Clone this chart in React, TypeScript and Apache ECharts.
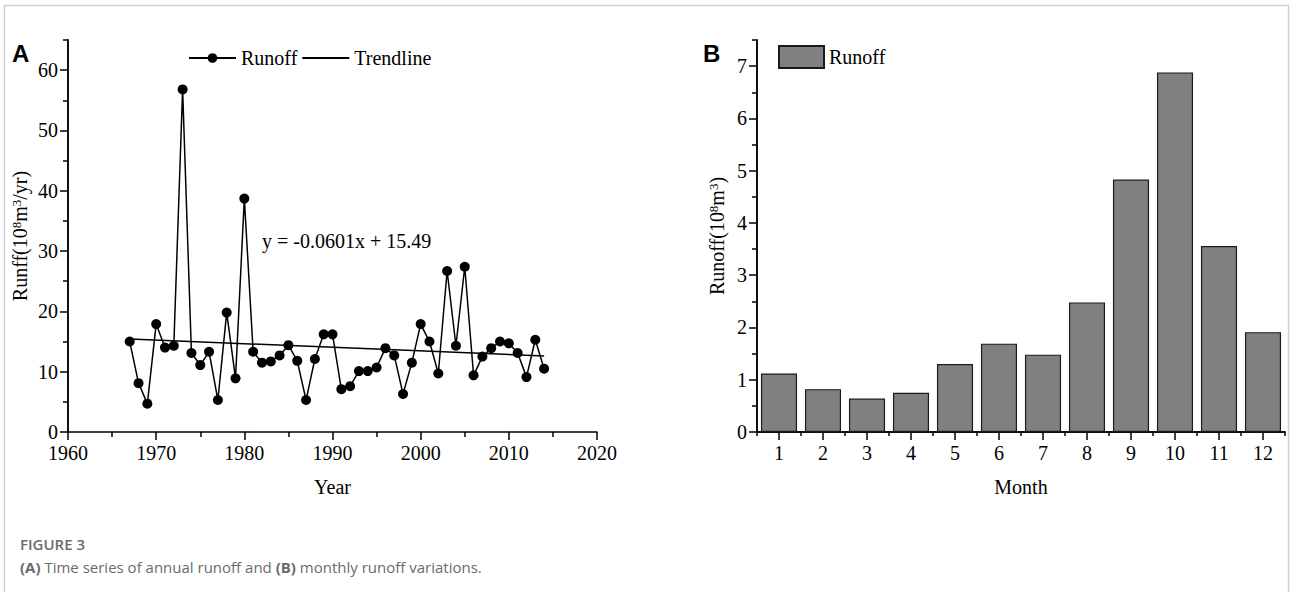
import React, { useEffect, useRef } from "react";
import * as echarts from "echarts";

const years = [
  1967, 1968, 1969, 1970, 1971, 1972, 1973, 1974, 1975, 1976, 1977, 1978,
  1979, 1980, 1981, 1982, 1983, 1984, 1985, 1986, 1987, 1988, 1989, 1990,
  1991, 1992, 1993, 1994, 1995, 1996, 1997, 1998, 1999, 2000, 2001, 2002,
  2003, 2004, 2005, 2006, 2007, 2008, 2009, 2010, 2011, 2012, 2013, 2014,
];
const annualRunoff = [
  15.0, 8.1, 4.7, 17.9, 14.0, 14.3, 56.8, 13.1, 11.1, 13.3, 5.3, 19.8,
  8.9, 38.7, 13.3, 11.5, 11.7, 12.7, 14.4, 11.8, 5.3, 12.1, 16.2, 16.2,
  7.1, 7.6, 10.1, 10.1, 10.7, 13.9, 12.7, 6.3, 11.5, 17.9, 15.0, 9.7,
  26.7, 14.3, 27.4, 9.4, 12.5, 13.9, 15.0, 14.7, 13.1, 9.1, 15.3, 10.5,
];
const trendYears = [1967, 2014];
const trendValues = [15.43, 12.61];
const equationText = "y = -0.0601x + 15.49";

const months = ["1", "2", "3", "4", "5", "6", "7", "8", "9", "10", "11", "12"];
const monthlyRunoff = [1.12, 0.82, 0.64, 0.75, 1.3, 1.69, 1.48, 2.48, 4.83, 6.88, 3.56, 1.91];

const annualMajorTicks = [0, 10, 20, 30, 40, 50, 60];
const annualMinorTicks = [5, 15, 25, 35, 45, 55, 65];
const monthlyMajorTicks = [0, 1, 2, 3, 4, 5, 6, 7];
const monthlyMinorTicks = [0.5, 1.5, 2.5, 3.5, 4.5, 5.5, 6.5, 7.5];

const SERIF = "'Liberation Serif', 'Times New Roman', serif";
const SANS = "'Open Sans', 'Noto Sans', sans-serif";

const axisLine = { show: true, lineStyle: { color: "#000", width: 1.5 } };
const tickLine = { color: "#000", width: 1.5 };
const labelStyle = { fontFamily: SERIF, fontSize: 20, color: "#000" };
const titleRich = {
  n: { fontFamily: SERIF, fontSize: 20, color: "#000" },
  s: { fontFamily: SERIF, fontSize: 13, color: "#000", verticalAlign: "top" },
};

export default function App() {
  const ref = useRef<HTMLDivElement>(null);
  useEffect(() => {
    if (!ref.current) return;
    const chart = echarts.init(ref.current, null, { renderer: "svg" });
    const option: any = {
      animation: false,
      backgroundColor: "#fff",
      grid: [
        { left: 68, top: 40, width: 529, height: 392 },
        { left: 757, top: 40, width: 528, height: 392 },
      ],
      legend: [
        {
          data: ["Runoff", { name: "Trendline", itemStyle: { opacity: 0 } }],
          left: 188,
          top: 48,
          padding: 0,
          itemWidth: 47,
          itemHeight: 12,
          itemGap: 4,
          textStyle: { fontFamily: SERIF, fontSize: 20, color: "#000" },
        },
        {
          data: [{ name: "Monthly runoff", icon: "rect" }],
          formatter: () => "Runoff",
          left: 778,
          top: 45,
          padding: 0,
          itemWidth: 45,
          itemHeight: 22,
          itemGap: 5,
          textStyle: { fontFamily: SERIF, fontSize: 20, color: "#000" },
        },
      ],
      xAxis: [
        {
          type: "value",
          gridIndex: 0,
          min: 1960,
          max: 2020,
          interval: 10,
          axisLine,
          axisTick: { show: true, inside: false, length: 8, lineStyle: tickLine },
          minorTick: { show: true, splitNumber: 2, length: 5, lineStyle: tickLine },
          axisLabel: { ...labelStyle, margin: 11, formatter: (v: number) => String(v) },
          splitLine: { show: false },
          minorSplitLine: { show: false },
          name: "Year",
          nameLocation: "middle",
          nameGap: 45,
          nameTextStyle: { fontFamily: SERIF, fontSize: 20, color: "#000" },
        },
        {
          type: "category",
          gridIndex: 1,
          data: months,
          axisLine,
          axisTick: { show: true, alignWithLabel: true, length: 8, lineStyle: tickLine },
          axisLabel: { ...labelStyle, margin: 11 },
          splitLine: { show: false },
          name: "Month",
          nameLocation: "middle",
          nameGap: 45,
          nameTextStyle: { fontFamily: SERIF, fontSize: 20, color: "#000" },
        },
        {
          type: "category",
          gridIndex: 1,
          position: "bottom",
          data: months,
          axisLine,
          axisTick: { show: true, alignWithLabel: false, length: 4, lineStyle: tickLine },
          axisLabel: { show: false },
          splitLine: { show: false },
        },
      ],
      yAxis: [
        {
          type: "value",
          gridIndex: 0,
          position: "left",
          min: 0,
          max: 65,
          axisLine,
          axisTick: { show: true, length: 8, customValues: annualMajorTicks, lineStyle: tickLine },
          axisLabel: { ...labelStyle, margin: 10, customValues: annualMajorTicks },
          splitLine: { show: false },
          name: "{n|Runff(10}{s|8}{n|m}{s|3}{n|/yr)}",
          nameLocation: "middle",
          nameGap: 38,
          nameRotate: 90,
          nameTextStyle: { rich: titleRich },
        },
        {
          type: "value",
          gridIndex: 0,
          position: "left",
          min: 0,
          max: 65,
          axisLine,
          axisTick: { show: true, length: 5, customValues: annualMinorTicks, lineStyle: tickLine },
          axisLabel: { show: false },
          splitLine: { show: false },
        },
        {
          type: "value",
          gridIndex: 1,
          position: "left",
          min: 0,
          max: 7.5,
          axisLine,
          axisTick: { show: true, length: 8, customValues: monthlyMajorTicks, lineStyle: tickLine },
          axisLabel: { ...labelStyle, margin: 10, customValues: monthlyMajorTicks },
          splitLine: { show: false },
          name: "{n|Runoff(10}{s|8}{n|m}{s|3}{n|)}",
          nameLocation: "middle",
          nameGap: 30,
          nameRotate: 90,
          nameTextStyle: { rich: titleRich },
        },
        {
          type: "value",
          gridIndex: 1,
          position: "left",
          min: 0,
          max: 7.5,
          axisLine,
          axisTick: { show: true, length: 5, customValues: monthlyMinorTicks, lineStyle: tickLine },
          axisLabel: { show: false },
          splitLine: { show: false },
        },
      ],
      series: [
        {
          name: "Runoff",
          type: "line",
          xAxisIndex: 0,
          yAxisIndex: 0,
          data: years.map((y, i) => [y, annualRunoff[i]]),
          symbol: "circle",
          symbolSize: 10,
          itemStyle: { color: "#000" },
          lineStyle: { color: "#000", width: 1.5 },
          z: 3,
        },
        {
          name: "Trendline",
          type: "line",
          xAxisIndex: 0,
          yAxisIndex: 0,
          data: trendYears.map((y, i) => [y, trendValues[i]]),
          symbol: "none",
          itemStyle: { color: "#000" },
          lineStyle: { color: "#000", width: 1.5 },
        },
        {
          name: "Monthly runoff",
          type: "bar",
          xAxisIndex: 1,
          yAxisIndex: 2,
          data: monthlyRunoff,
          barCategoryGap: "18%",
          itemStyle: { color: "#808080", borderColor: "#1a1a1a", borderWidth: 1.2 },
        },
      ],
      graphic: [
        {
          type: "rect",
          shape: { x: 4.5, y: 5.5, width: 1284, height: 620 },
          style: { fill: "none", stroke: "#cfcfcf", lineWidth: 1.5 },
          silent: true,
        },
        {
          type: "text",
          left: 12,
          top: 41,
          style: { text: "A", fontFamily: "'Liberation Sans', Arial, sans-serif", fontWeight: "bold", fontSize: 24, fill: "#000" },
        },
        {
          type: "text",
          left: 703,
          top: 41,
          style: { text: "B", fontFamily: "'Liberation Sans', Arial, sans-serif", fontWeight: "bold", fontSize: 24, fill: "#000" },
        },
        {
          type: "text",
          left: 262,
          top: 231,
          style: { text: equationText, fontFamily: SERIF, fontSize: 20, fill: "#000" },
        },
        {
          type: "text",
          left: 20,
          top: 536,
          style: { text: "FIGURE 3", fontFamily: SANS, fontWeight: 600, fontSize: 15, fill: "#6b6b6b" },
        },
        {
          type: "text",
          left: 20,
          top: 559,
          style: {
            text: "{b|(A)}{n| Time series of annual runoff and }{b|(B)}{n| monthly runoff variations.}",
            rich: {
              b: { fontFamily: SANS, fontWeight: 700, fontSize: 15, fill: "#6b6b6b" },
              n: { fontFamily: SANS, fontWeight: 400, fontSize: 15, fill: "#6b6b6b" },
            },
          },
        },
      ],
    };
    chart.setOption(option);
    return () => chart.dispose();
  }, []);
  return (
    <div
      ref={ref}
      style={{ position: "absolute", left: 0, top: 0, width: 1290, height: 592 }}
    />
  );
}
